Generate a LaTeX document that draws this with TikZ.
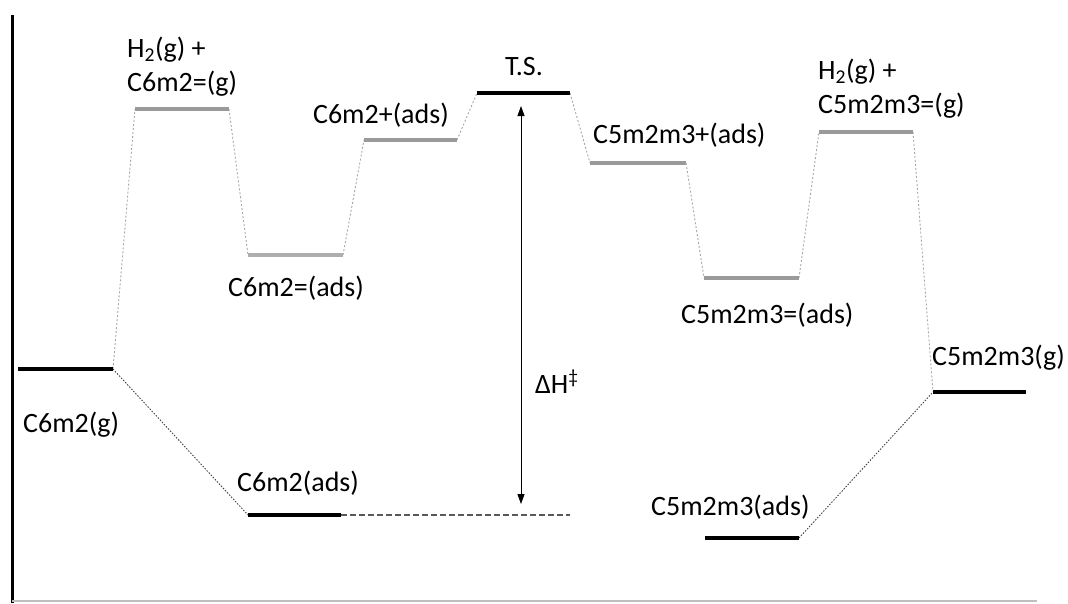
\documentclass[tikz,border=0pt]{standalone}
\usepackage{fontspec}
\setmainfont{Carlito}
\usetikzlibrary{arrows.meta}
\begin{document}
\begin{tikzpicture}[x=1pt,y=-1pt,
  lbl/.style={inner sep=0pt,font=\fontsize{28}{34}\selectfont},
  lvlk/.style={line width=4.5pt,black},
  lvlg/.style={line width=4pt,color=levgray},
  conup/.style={line width=0.9pt,color=gray!70,dash pattern=on 2pt off 2pt},
  condn/.style={line width=0.9pt,color=black!75,dash pattern=on 1.5pt off 1.5pt},
]
\definecolor{levgray}{HTML}{9A9A9A}
\useasboundingbox (0,0) rectangle (1068,603);
% axes
\coordinate (ytop) at (12,15);
\coordinate (ybot) at (12,603);
\coordinate (xend) at (1037,601);
\coordinate (xstart) at (12,601);
\draw[line width=3pt] (ytop) -- (ybot);
\draw[line width=1.5pt,color=black!25] (xstart) -- (xend);
% level end points
\coordinate (gL) at (18,369);   \coordinate (gR) at (113,369);
\coordinate (hL) at (135,109);  \coordinate (hR) at (229,109);
\coordinate (eL) at (248,255);  \coordinate (eR) at (343,255);
\coordinate (pL) at (364,140);  \coordinate (pR) at (457,140);
\coordinate (tL) at (477,93);   \coordinate (tR) at (570,93);
\coordinate (qL) at (590,163);  \coordinate (qR) at (686,163);
\coordinate (fL) at (704,278);  \coordinate (fR) at (799,278);
\coordinate (kL) at (819,132);  \coordinate (kR) at (913,132);
\coordinate (cL) at (933,392);  \coordinate (cR) at (1026,392);
\coordinate (bL) at (705,538);  \coordinate (bR) at (799,538);
\coordinate (aL) at (248,515);  \coordinate (aR) at (341,515);
\coordinate (aD) at (570,515);
% connectors
\draw[conup] (gR) -- (hL);
\draw[conup] (hR) -- (eL);
\draw[conup] (eR) -- (pL);
\draw[conup] (pR) -- (tL);
\draw[conup] (tR) -- (qL);
\draw[conup] (qR) -- (fL);
\draw[conup] (fR) -- (kL);
\draw[conup] (kR) -- (cL);
\draw[condn] (gR) -- (aL);
\draw[condn] (bR) -- (cL);
% dashed reference
\draw[line width=2pt,color=black!65,dash pattern=on 6pt off 3pt] (aR) -- (aD);
% levels
\draw[lvlk] (gL) -- (gR);
\draw[lvlg] (hL) -- (hR);
\draw[lvlg,color=levgray!80] (eL) -- (eR);
\draw[lvlg] (pL) -- (pR);
\draw[lvlk] (tL) -- (tR);
\draw[lvlg] (qL) -- (qR);
\draw[lvlg] (fL) -- (fR);
\draw[lvlg] (kL) -- (kR);
\draw[lvlk] (cL) -- (cR);
\draw[lvlk] (bL) -- (bR);
\draw[lvlk] (aL) -- (aR);
% barrier arrow
\coordinate (arT) at (521,106);
\coordinate (arB) at (521,504);
\draw[line width=0.9pt,{Triangle[length=10pt,width=7pt]}-{Triangle[length=10pt,width=7pt]}] (arT) -- (arB);
% labels
\node[lbl,anchor=base west] (lg) at (23,432) {C6m2(g)};
\node[lbl,anchor=base west,align=left] (lh) at (127,91) {H\textsubscript{2}(g) +\\C6m2=(g)};
\node[lbl,anchor=base west] (le) at (228,296) {C6m2=(ads)};
\node[lbl,anchor=base east] (lp) at (449,123) {C6m2+(ads)};
\node[lbl,anchor=base] (lt) at (524,75) {T.S.};
\node[lbl,anchor=base west] (lq) at (593,143) {C5m2m3+(ads)};
\node[lbl,anchor=base west] (lf) at (681,323) {C5m2m3=(ads)};
\node[lbl,anchor=base west,align=left] (lk) at (818,113) {H\textsubscript{2}(g) +\\C5m2m3=(g)};
\node[lbl,anchor=base west] (lc) at (932,365) {C5m2m3(g)};
\node[lbl,anchor=base west] (lb) at (651,515) {C5m2m3(ads)};
\node[lbl,anchor=base west] (la) at (237,491) {C6m2(ads)};
\node[lbl,anchor=base west] (ldh) at (535,393) {ΔH\textsuperscript{‡}};
\end{tikzpicture}
\end{document}
